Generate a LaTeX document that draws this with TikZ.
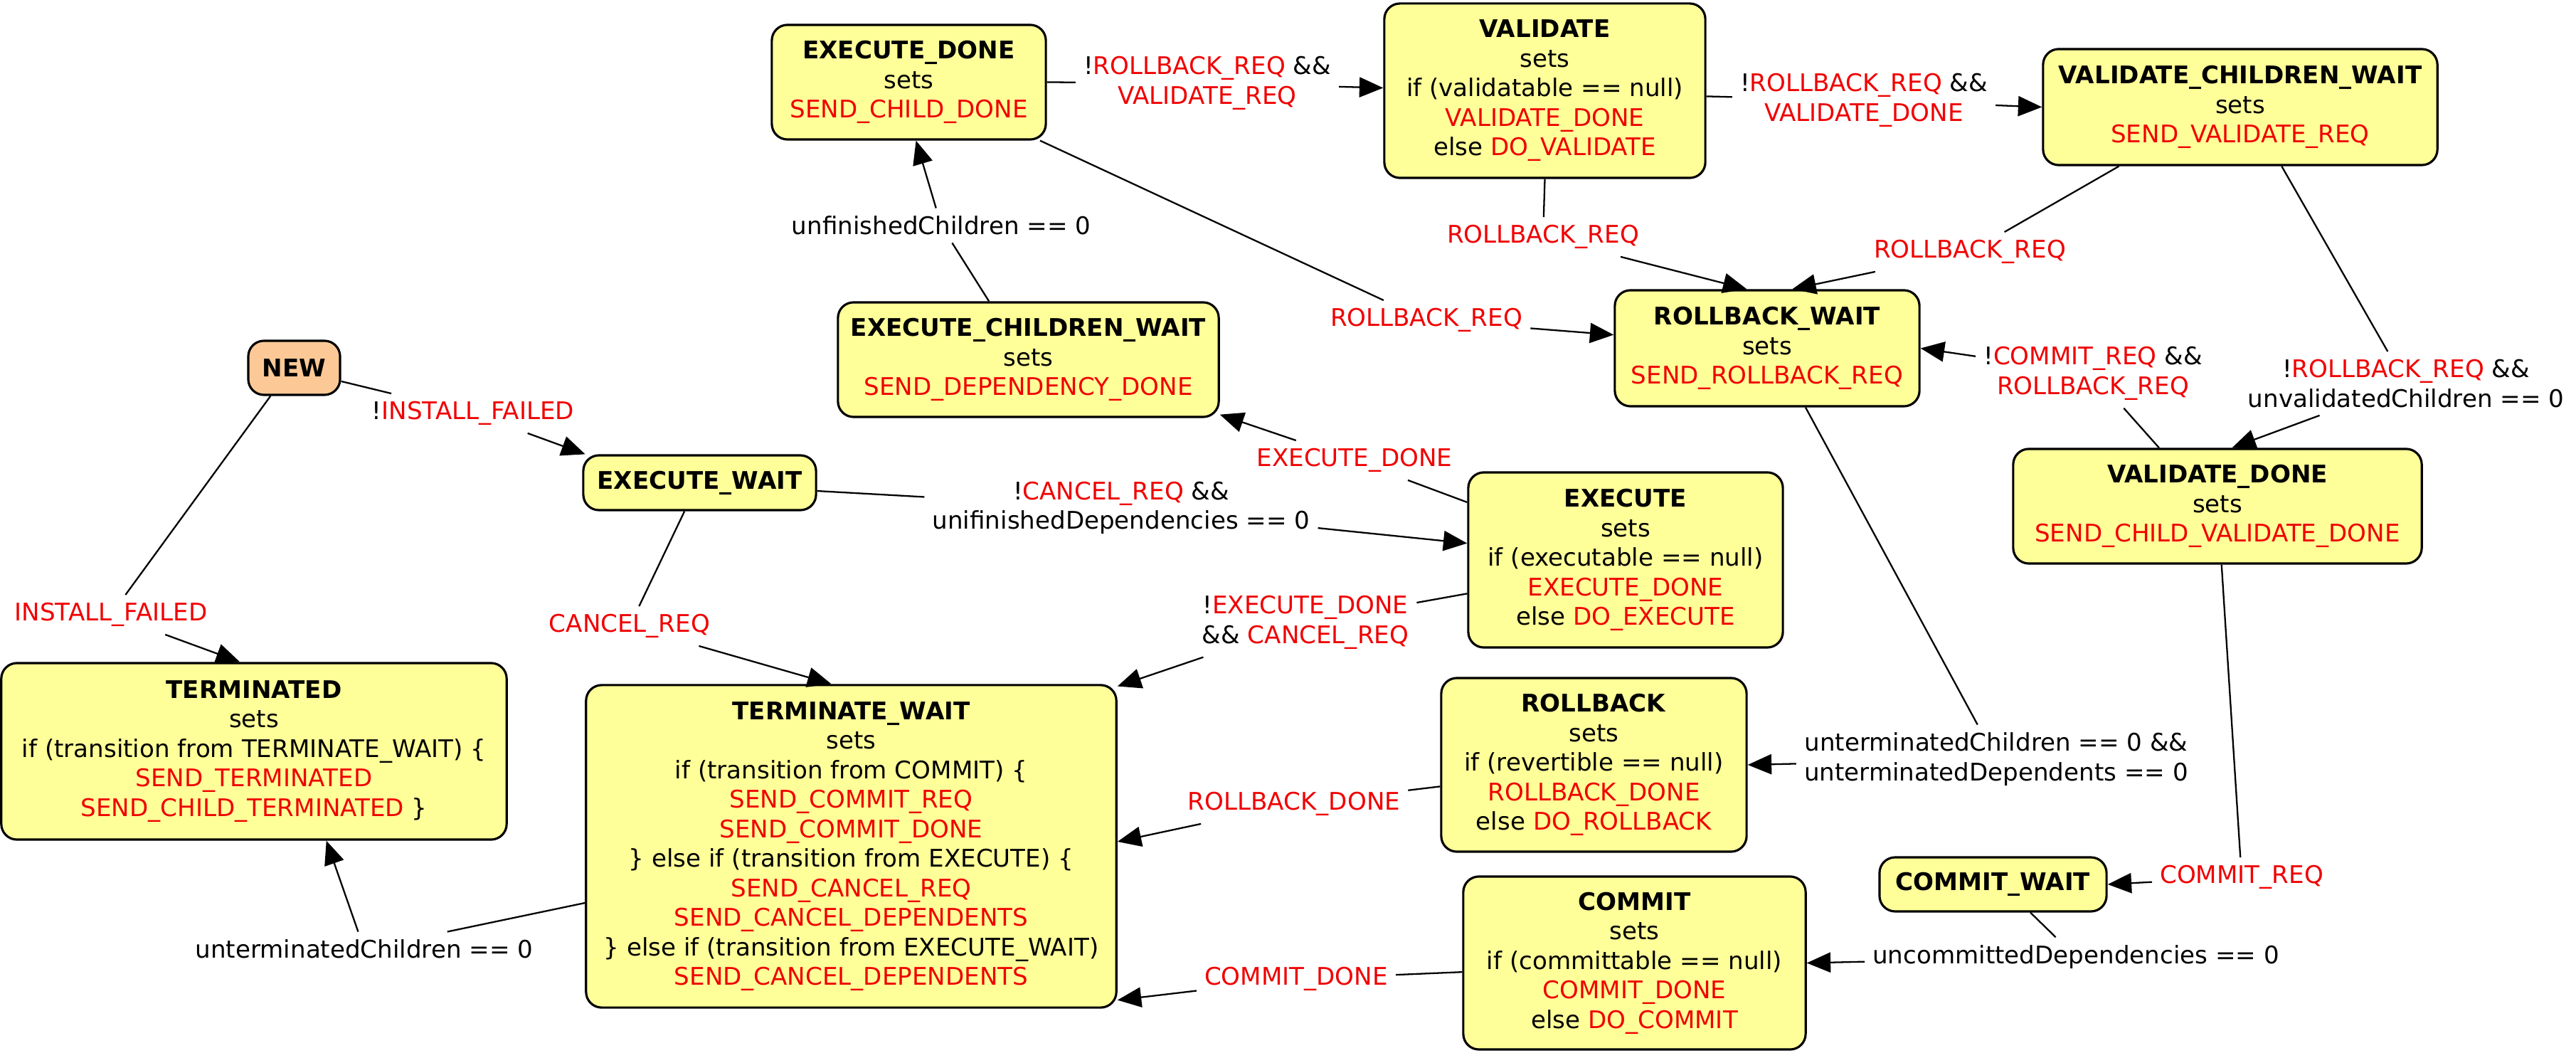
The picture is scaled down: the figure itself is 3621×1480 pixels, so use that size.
\documentclass[tikz,border=0pt]{standalone}
\usepackage{fontspec}
\setmainfont{DejaVu Sans}
\usetikzlibrary{arrows.meta}
\definecolor{boxyellow}{HTML}{FFFF99}
\definecolor{newpeach}{HTML}{FCC996}
\definecolor{sred}{HTML}{F00000}
\newcommand\rd[1]{\textcolor{sred}{#1}}
\begin{document}
\begin{tikzpicture}[x=0.01cm, y=-0.01cm,
  state/.style={draw, line width=0.9pt, rounded corners=0.22cm, fill=boxyellow, align=center, inner sep=2pt, font=\fontsize{9.7}{11.8}\selectfont},
  lbl/.style={align=center, inner sep=3pt, font=\fontsize{9.7}{11.8}\selectfont},
  conn/.style={line width=0.65pt},
  arr/.style={line width=0.65pt, -{Triangle[length=9.5pt,width=8pt]}}
]
\useasboundingbox (0,0) rectangle (3621,1480);

% states
\node[state, minimum width=3.85cm, minimum height=1.61cm] (ed) at (1277.5,115.5) {\textbf{EXECUTE\_DONE}\\sets\\\rd{SEND\_CHILD\_DONE}};
\node[state, minimum width=4.51cm, minimum height=2.45cm] (val) at (2171.5,127.5) {\textbf{VALIDATE}\\sets\\if (validatable == null)\\\rd{VALIDATE\_DONE}\\else \rd{DO\_VALIDATE}};
\node[state, minimum width=5.54cm, minimum height=1.63cm] (vcw) at (3149,150.5) {\textbf{VALIDATE\_CHILDREN\_WAIT}\\sets\\\rd{SEND\_VALIDATE\_REQ}};
\node[state, fill=newpeach, minimum width=1.29cm, minimum height=0.76cm] (new) at (413.5,517) {\textbf{NEW}};
\node[state, minimum width=5.35cm, minimum height=1.61cm] (ecw) at (1445.5,505.5) {\textbf{EXECUTE\_CHILDREN\_WAIT}\\sets\\\rd{SEND\_DEPENDENCY\_DONE}};
\node[state, minimum width=4.28cm, minimum height=1.63cm] (rw) at (2484,489.5) {\textbf{ROLLBACK\_WAIT}\\sets\\\rd{SEND\_ROLLBACK\_REQ}};
\node[state, minimum width=3.27cm, minimum height=0.77cm] (ew) at (983.5,678.5) {\textbf{EXECUTE\_WAIT}};
\node[state, minimum width=4.42cm, minimum height=2.46cm] (ex) at (2285,787) {\textbf{EXECUTE}\\sets\\if (executable == null)\\\rd{EXECUTE\_DONE}\\else \rd{DO\_EXECUTE}};
\node[state, minimum width=5.74cm, minimum height=1.61cm] (vd) at (3117,711.5) {\textbf{VALIDATE\_DONE}\\sets\\\rd{SEND\_CHILD\_VALIDATE\_DONE}};
\node[state, minimum width=7.10cm, minimum height=2.48cm] (term) at (357,1056) {\textbf{TERMINATED}\\sets\\if (transition from TERMINATE\_WAIT) \{\\\rd{SEND\_TERMINATED}\\\rd{SEND\_CHILD\_TERMINATED} \}};
\node[state, minimum width=7.45cm, minimum height=4.53cm] (tw) at (1196.5,1189.5) {\textbf{TERMINATE\_WAIT}\\sets\\if (transition from COMMIT) \{\\\rd{SEND\_COMMIT\_REQ}\\\rd{SEND\_COMMIT\_DONE}\\\} else if (transition from EXECUTE) \{\\\rd{SEND\_CANCEL\_REQ}\\\rd{SEND\_CANCEL\_DEPENDENTS}\\\} else if (transition from EXECUTE\_WAIT)\\\rd{SEND\_CANCEL\_DEPENDENTS}};
\node[state, minimum width=4.29cm, minimum height=2.44cm] (rb) at (2240.5,1075) {\textbf{ROLLBACK}\\sets\\if (revertible == null)\\\rd{ROLLBACK\_DONE}\\else \rd{DO\_ROLLBACK}};
\node[state, minimum width=3.19cm, minimum height=0.76cm] (cw) at (2801.5,1243) {\textbf{COMMIT\_WAIT}};
\node[state, minimum width=4.81cm, minimum height=2.43cm] (cm) at (2297.5,1353.5) {\textbf{COMMIT}\\sets\\if (committable == null)\\\rd{COMMIT\_DONE}\\else \rd{DO\_COMMIT}};

% labels
\node[lbl] (l1) at (665,581) {!\rd{INSTALL\_FAILED}};
\node[lbl] (l2) at (156,864) {\rd{INSTALL\_FAILED}};
\node[lbl] (l3) at (1323,317) {unfinishedChildren == 0};
\node[lbl] (l4) at (885,880) {\rd{CANCEL\_REQ}};
\node[lbl] (l5) at (512,1334) {unterminatedChildren == 0};
\node[lbl] (l6) at (1576,714) {!\rd{CANCEL\_REQ} \&\&\\unifinishedDependencies == 0};
\node[lbl] (l7) at (1697,117) {!\rd{ROLLBACK\_REQ} \&\&\\\rd{VALIDATE\_REQ}};
\node[lbl] (l8) at (2005,450) {\rd{ROLLBACK\_REQ}};
\node[lbl] (l9) at (2169,333) {\rd{ROLLBACK\_REQ}};
\node[lbl] (l10) at (2769,354) {\rd{ROLLBACK\_REQ}};
\node[lbl] (l11) at (2620,141) {!\rd{ROLLBACK\_REQ} \&\&\\\rd{VALIDATE\_DONE}};
\node[lbl] (l12) at (3382,539) {!\rd{ROLLBACK\_REQ} \&\&\\unvalidatedChildren == 0};
\node[lbl] (l13) at (2942,525) {!\rd{COMMIT\_REQ} \&\&\\\rd{ROLLBACK\_REQ}};
\node[lbl] (l14) at (2806,1067) {unterminatedChildren == 0 \&\&\\unterminatedDependents == 0};
\node[lbl] (l15) at (3151,1233) {\rd{COMMIT\_REQ}};
\node[lbl] (l16) at (2918,1345) {uncommittedDependencies == 0};
\node[lbl] (l17) at (1904,647) {\rd{EXECUTE\_DONE}};
\node[lbl] (l18) at (1835,875) {!\rd{EXECUTE\_DONE}\\\&\& \rd{CANCEL\_REQ}};
\node[lbl] (l19) at (1819,1130) {\rd{ROLLBACK\_DONE}};
\node[lbl] (l20) at (1822,1376) {\rd{COMMIT\_DONE}};

% connectors
\draw[conn] (new.-16) -- (l1);   \draw[arr] (l1) -- (ew.166);
\draw[conn] (new.230) -- (l2);   \draw[arr] (l2) -- (term.99);
\draw[conn] (ecw.124) -- (l3);   \draw[arr] (l3) -- (ed.-83);
\draw[conn] (ew.242) -- (l4);    \draw[arr] (l4) -- (tw.97);
\draw[conn] (tw.192) -- (l5);    \draw[arr] (l5) -- (term.-51);
\draw[conn] (ew.-4) -- (l6);     \draw[arr] (l6) -- (ex.174);
\draw[conn] (ed.east) -- (l7);   \draw[arr] (l7) -- (val.179);
\draw[conn] (ed.-24) -- (l8);    \draw[arr] (l8) -- (rw.175);
\draw[conn] (val.south) -- (l9); \draw[arr] (l9) -- (rw.109);
\draw[conn] (vcw.206) -- (l10);  \draw[arr] (l10) -- (rw.67);
\draw[conn] (val.-2) -- (l11);   \draw[arr] (l11) -- (vcw.west);
\draw[conn] (vcw.-55) -- (l12);  \draw[arr] (l12) -- (vd.76);
\draw[conn] (vd.135) -- (l13);   \draw[arr] (l13) -- (rw.east);
\draw[conn] (rw.-57) -- (l14);   \draw[arr] (l14) -- (rb.east);
\draw[conn] (vd.-86) -- (l15);   \draw[arr] (l15) -- (cw.east);
\draw[conn] (cw.-37) -- (l16);   \draw[arr] (l16) -- (cm.east);
\draw[conn] (ex.160) -- (l17);   \draw[arr] (l17) -- (ecw.-16);
\draw[conn] (ex.192) -- (l18);   \draw[arr] (l18) -- (tw.31);
\draw[conn] (rb.188) -- (l19);   \draw[arr] (l19) -- (tw.1);
\draw[conn] (cm.183) -- (l20);   \draw[arr] (l20) -- (tw.-30);
\end{tikzpicture}
\end{document}
